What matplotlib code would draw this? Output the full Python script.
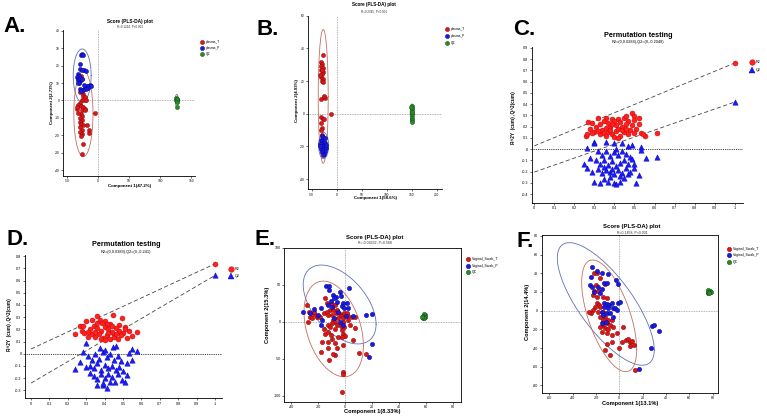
import numpy as np
import matplotlib
matplotlib.use('Agg')
import matplotlib.pyplot as plt
from matplotlib.lines import Line2D

plt.rcParams['font.family'] = ['Liberation Sans', 'DejaVu Sans']

W, H = 767., 418.

# ---------------- data ----------------
# A. plasma, PLS-DA scores
a_T = np.array([(-28, 14), (-26, 12.5), (-27, 6), (-29, 5), (-24, 4), (-25, 2.5), (-23, 1), (-22, 0),
                (-27, 0.5), (-21, 2), (-30, -1.5), (-33, -2.5), (-28, -3), (-24, -3.5), (-22, -5),
                (-34, -5), (-26, -5.5), (-21, -5.5), (-5, -7.2), (-28, -8), (-26, -9), (-29, -10),
                (-27, -11.5), (-30, -12.5), (-28, -13.5), (-25, -14), (-29, -15.5), (-27, -17),
                (-30, -18), (-26, -19.5), (-28, -20.5), (-17.5, -14.3), (-15, -17), (-15, -18.5),
                (-25, -24.8), (-26, -30.5), (-35, -3.8), (-19, 0), (-32, -7)])
a_P = np.array([(-28.4, 26.3), (-25.5, 26.5), (-24, 26.3), (-30, 21), (-29.5, 18), (-22.5, 17.5),
                (-20.3, 17.2), (-26, 17.8), (-33, 15), (-31.5, 14.3), (-34, 13.3), (-32, 12.4),
                (-30, 11.4), (-33.5, 11.5), (-29, 13), (-27, 12.5), (-31, 10.3), (-32.5, 9.8),
                (-18.5, 8.6), (-14, 8.8), (-16, 8.2), (-22.2, 7.3), (-16.8, 7), (-20, 6.5),
                (-25, 6.2), (-30.3, 6.5), (-28, 5.4), (-23, 8.8), (-12.5, 8.5)])
a_QC = np.array([(126.5, 1.5), (127, 0.8), (126.8, 0), (127.3, -0.5), (126.2, 0.3), (127.5, 1.1),
                 (126.9, -1), (127.2, -3.6)])

# B. plasma, PLS-DA scores
b_T = np.array([(-27, 36), (-31, 31.5), (-29.5, 30.5), (-31.5, 29), (-28, 28), (-30.5, 26.5),
                (-27, 25.5), (-29.5, 24), (-31, 22.5), (-28, 21.5), (-28.5, 20), (-27, 19.5),
                (-32.5, 23.5), (-30, 27), (-32, 9), (-24.5, 10.3), (-23, 9.7), (-26, 10.8),
                (-11.4, 0), (-32, -2), (-28, -3.4), (-24.5, -3.2), (-31, -6), (-29, -9), (-32, -10),
                (-28.5, -13)])
b_P = np.array([(-30, -13.5), (-27, -14.5), (-24, -15), (-32, -16), (-29, -17), (-26, -17.5),
                (-23, -18), (-33, -18.5), (-30.5, -19.5), (-28, -20), (-25, -20.5), (-22, -21),
                (-31, -21.5), (-27.5, -22), (-24, -23), (-29.5, -23.5), (-26, -24.5), (-28, -25.5),
                (-33.5, -20), (-21.5, -19)])
b_QC = np.array([(150, 5), (150.5, 3.5), (149.8, 2), (150.3, 0.5), (150, -1), (150.6, -2.5),
                 (149.9, -3.8), (150.2, -4.8), (150.8, 1), (149.5, 4)])

# C. permutation test (plasma)
c_R2 = np.array([(0.26, 0.12), (0.265, 0.13), (0.27, 0.24), (0.29, 0.23), (0.32, 0.28), (0.36, 0.28),
                 (0.39, 0.27), (0.42, 0.27), (0.45, 0.28), (0.46, 0.29), (0.49, 0.32), (0.5, 0.29),
                 (0.52, 0.28), (0.5, 0.26), (0.52, 0.22), (0.51, 0.18), (0.53, 0.14), (0.55, 0.12),
                 (0.54, 0.13), (0.61, 0.14), (0.48, 0.17), (0.3, 0.15), (0.28, 0.18), (0.31, 0.2),
                 (0.33, 0.22), (0.35, 0.25), (0.37, 0.23), (0.4, 0.25), (0.43, 0.24), (0.47, 0.25),
                 (0.34, 0.17), (0.36, 0.19), (0.38, 0.2), (0.41, 0.21), (0.44, 0.2), (0.46, 0.22),
                 (0.49, 0.21), (0.33, 0.13), (0.35, 0.14), (0.37, 0.15), (0.39, 0.13), (0.41, 0.16),
                 (0.43, 0.12), (0.45, 0.15), (0.47, 0.13), (0.4, 0.11), (0.42, 0.18), (0.44, 0.17),
                 (0.5, 0.14), (0.38, 0.17), (0.36, 0.12), (0.32, 0.16), (0.29, 0.14), (0.42, 0.1),
                 (0.39, 0.22), (0.46, 0.18), (1.0, 0.765)])
c_Q2 = np.array([(0.265, 0.005), (0.3, 0.065), (0.3, 0.05), (0.28, -0.08), (0.25, -0.13), (0.265, -0.17),
                 (0.3, -0.29), (0.33, -0.3), (0.35, -0.27), (0.38, -0.25), (0.4, -0.3), (0.41, -0.31),
                 (0.43, -0.29), (0.45, -0.26), (0.47, -0.22), (0.51, -0.3), (0.52, -0.23), (0.5, -0.17),
                 (0.5, -0.13), (0.53, 0.02), (0.53, -0.01), (0.555, -0.08), (0.61, -0.07), (0.49, 0.04),
                 (0.47, 0.03), (0.36, 0.06), (0.4, 0.05), (0.44, 0.05), (0.32, -0.02), (0.34, -0.05),
                 (0.36, -0.02), (0.38, -0.06), (0.4, -0.03), (0.42, -0.05), (0.44, -0.02), (0.46, -0.04),
                 (0.48, -0.07), (0.31, -0.1), (0.33, -0.13), (0.35, -0.1), (0.37, -0.14), (0.39, -0.11),
                 (0.41, -0.15), (0.43, -0.12), (0.45, -0.1), (0.47, -0.13), (0.49, -0.09), (0.32, -0.18),
                 (0.34, -0.21), (0.36, -0.19), (0.38, -0.2), (0.4, -0.22), (0.42, -0.19), (0.44, -0.21),
                 (0.46, -0.17), (0.48, -0.2), (0.29, -0.2), (0.37, -0.29), (0.41, 0.0), (0.39, -0.18),
                 (0.43, -0.24), (0.35, -0.16), (1.0, 0.418)])
c_lines = [(0.0284, 0.765), (-0.2048, 0.418)]

# D. permutation test (vaginal swab)
d_R2 = np.array([(0.239, 0.162), (0.266, 0.23), (0.284, 0.23), (0.3, 0.265), (0.33, 0.276), (0.357, 0.31),
                 (0.375, 0.28), (0.4, 0.27), (0.447, 0.319), (0.493, 0.297), (0.478, 0.238), (0.51, 0.222),
                 (0.53, 0.19), (0.547, 0.149), (0.574, 0.176), (0.52, 0.13), (0.43, 0.24), (0.41, 0.24),
                 (0.384, 0.25), (0.275, 0.19), (0.311, 0.135), (0.29, 0.17), (0.32, 0.2), (0.34, 0.23),
                 (0.36, 0.21), (0.38, 0.19), (0.4, 0.22), (0.42, 0.2), (0.44, 0.18), (0.46, 0.21),
                 (0.48, 0.19), (0.5, 0.17), (0.33, 0.16), (0.35, 0.14), (0.37, 0.16), (0.39, 0.13),
                 (0.41, 0.15), (0.43, 0.12), (0.45, 0.14), (0.47, 0.12), (0.49, 0.15), (0.36, 0.25),
                 (0.38, 0.12), (0.42, 0.17), (0.46, 0.16), (0.31, 0.18), (0.35, 0.18), (0.4, 0.11),
                 (0.44, 0.23), (0.51, 0.2), (1.0, 0.738)])
d_Q2 = np.array([(0.239, -0.122), (0.266, -0.068), (0.284, 0.014), (0.3, 0.086), (0.375, 0.049),
                 (0.447, 0.054), (0.462, 0.065), (0.53, 0.005), (0.547, 0.04), (0.574, 0.022),
                 (0.547, -0.054), (0.52, -0.08), (0.493, -0.216), (0.51, -0.23), (0.52, -0.176),
                 (0.357, -0.257), (0.393, -0.257), (0.41, -0.284), (0.456, -0.23), (0.43, -0.23),
                 (0.32, -0.162), (0.3, -0.108), (0.31, -0.02), (0.33, -0.05), (0.35, 0.0), (0.37, -0.04),
                 (0.39, 0.01), (0.41, -0.03), (0.43, 0.0), (0.45, -0.05), (0.47, -0.02), (0.49, -0.06),
                 (0.32, -0.1), (0.34, -0.12), (0.36, -0.08), (0.38, -0.13), (0.4, -0.09), (0.42, -0.12),
                 (0.44, -0.1), (0.46, -0.13), (0.48, -0.11), (0.5, -0.14), (0.34, -0.18), (0.36, -0.21),
                 (0.38, -0.17), (0.4, -0.2), (0.42, -0.17), (0.44, -0.19), (0.47, -0.17), (0.39, -0.24),
                 (0.4, 0.03), (1.0, 0.643)])
d_lines = [(0.0389, 0.738), (-0.241, 0.643)]

# E. vaginal swab, PLS-DA scores
e_T = np.array([(-28.4, 22.6), (-25.9, 6.8), (-27.2, 0.1), (-22.7, 9.9), (-21.0, 6.8), (-19.8, 7.7),
                (-18.5, 6.8), (-22.7, 12.6), (-15.3, 11.3), (-24.2, 5.4), (-26.7, 12.6), (-14.8, 31.6),
                (-13.6, 24.9), (-9.9, 23.5), (-7.4, 22.6), (-11.1, 15.9), (-8.6, 15.9), (-6.2, 15.9),
                (-13.6, 13.6), (-12.3, 9.0), (-9.9, 9.0), (-6.9, 11.3), (-3.7, 9.9), (-2.5, 8.1),
                (-0.5, 11.3), (1.2, 11.3), (2.5, 7.7), (4.9, 6.8), (7.4, 6.8), (-4.9, 4.5), (-1.2, 4.5),
                (-8.6, 2.3), (-7.4, 0.1), (-9.9, -2.2), (-6.2, -4.5), (-1.2, 0.1), (2.5, 2.3),
                (-12.8, -4.5), (-15.3, -9.9), (-11.1, -6.7), (-7.4, -9.9), (-3.0, -5.8), (-0.5, -6.7),
                (3.7, -4.5), (7.4, -8.1), (-14.8, -17.1), (-12.8, -14.4), (-10.4, -18.0), (-2.5, -11.2),
                (-1.7, -17.1), (-4.9, -20.3), (-9.9, -23.4), (0.0, -19.4), (-17.3, -27.9), (-12.3, -27.9),
                (-7.4, -29.3), (-1.2, -31.5), (6.2, -24.7), (-2.5, -20.3), (-12.3, -36.0), (-7.4, -45.0),
                (-17.8, -40.5), (-6.2, -36.0), (-8.6, -44.1), (-11.9, -51.8), (10.4, -42.7), (15.6, -44.1),
                (-1.7, -68.4), (-1.2, -71.1), (-2.5, -94.5)])
e_P = np.array([(-14.3, 48.2), (-12.1, 48.2), (-11.6, 42.9), (3.2, 45.1), (-4.0, 39.7), (-9.1, 36.1),
                (-6.7, 33.9), (-3.2, 34.8), (-7.9, 31.6), (-10.4, 28.0), (-5.7, 27.1), (-1.2, 24.9),
                (1.2, 24.9), (-2.5, 21.6), (-0.5, 18.1), (2.5, 19.0), (-12.8, 22.6), (-9.9, 20.3),
                (-30.9, 13.6), (-17.8, 18.1), (-19.8, 9.0), (-17.8, -4.5), (-25.9, 11.3), (-3.7, -0.9),
                (-1.2, -4.5), (6.2, 8.1), (15.6, 9.0), (20.2, 10.8), (19.8, -30.6), (18.0, -47.7),
                (-5.4, 12.6), (-7.9, 4.5), (0.7, 8.1), (-22.7, 17.6), (-17.3, 2.3)])
e_QC = np.array([(57.5, 5), (58, 6.5), (58.5, 8), (59, 9), (58.2, 10), (57.8, 7.5), (59.2, 6),
                 (58.7, 4.5), (57, 6)])

# F. vaginal swab, PLS-DA scores
f_T = np.array([(-22.1, 40.0), (-19.3, 40.7), (-16.6, 34.6), (-12.3, 28.6), (-21.4, 21.2), (-18.1, 21.0),
                (-22.3, 16.7), (-19.5, 15.0), (-13.7, 15.0), (-10.9, 13.2), (-19.5, 8.0), (-17.8, 6.1),
                (-20.7, 4.3), (-16.6, 4.3), (-22.3, 0.7), (-24.3, -2.1), (-18.6, -1.0), (-13.7, -1.0),
                (-12.3, -6.4), (-16.6, -7.1), (-13.7, -9.9), (-9.4, -9.9), (-6.6, -9.9), (-10.9, -13.5),
                (-8.0, -15.3), (-13.7, -15.3), (-16.6, -17.1), (-12.3, -18.9), (-9.4, -20.0), (-5.1, -17.8),
                (3.5, -17.1), (-14.6, -22.4), (-10.9, -24.2), (-6.6, -26.0), (-2.3, -24.2), (2.0, -33.2),
                (5.5, -31.4), (7.2, -30.7), (9.2, -33.2), (11.2, -32.1), (12.9, -36.8), (9.2, -37.9),
                (-6.6, -33.2), (-10.9, -35.7), (-12.3, -42.1), (-8.0, -47.5), (-0.3, -40.4), (13.5, -63.5),
                (-26.0, -1.0), (-20.0, 28.0)])
f_P = np.array([(-23.7, 47.1), (-18.9, 42.9), (-15.1, 40.0), (-9.4, 39.3), (-24.3, 36.4), (-2.8, 32.8),
                (-1.4, 28.2), (-12.9, 30.0), (-10.9, 30.0), (-25.1, 27.5), (-23.7, 25.8), (-18.1, 25.0),
                (-15.1, 22.9), (-21.4, 20.3), (-16.6, 18.6), (-12.9, 8.6), (-10.9, 7.2), (-8.8, 6.1),
                (-6.6, 7.9), (-12.9, 4.3), (-10.0, 2.5), (-5.1, 2.5), (-1.4, 7.9), (-15.1, -1.0),
                (-13.7, -4.6), (-10.9, -2.8), (-8.0, -2.1), (-3.7, 2.5), (-2.3, 0.7), (-11.4, -11.7),
                (-15.1, -13.5), (27.8, -16.3), (30.1, -15.2), (34.1, -21.3), (27.2, -40.3), (16.9, -62.8),
                (-5.1, -6.4), (0.6, 9.6)])
f_QC = np.array([(76, 19), (77, 20.5), (78, 21), (76.5, 22), (77.5, 19.5), (78.3, 20), (76, 20.5),
                 (77, 18.5)])

# confidence ellipses: centre x, centre y, half-width, half-height, correlation
a_ell = [(-26, 14.3, 14.5, 15.3, 0.0), (-24, -7.6, 15.5, 24.7, 0.0), (127, 0, 2.5, 3.5, 0.0)]
b_ell = [(-26, -19.5, 10, 8, 0.0), (-26.8, 10.6, 10, 41, 0.0), (150, 0, 3, 6, 0.0)]
e_ell = [(-4, 23.3, 27, 53.3, -0.5), (-8.4, -9.7, 22, 64.6, -0.35)]
f_ell = [(-11.6, 7.2, 41.6, 65.6, -0.75), (-8.7, -5.5, 23.6, 59.8, -0.6)]

RED, RED_E = '#d81818', '#8a0000'
BLUE, BLUE_E = '#1a1ae0', '#00008a'
GREEN, GREEN_E = '#2a8a2a', '#0e4a0e'
RED_ELL, BLUE_ELL = '#c07060', '#6070b8'

fig = plt.figure(figsize=(W / 100, H / 100), dpi=100)


def box(l, t, r, b):
    return [l / W, 1 - b / H, (r - l) / W, (b - t) / H]


def ftext(px, py, s, **kw):
    fig.text(px / W, 1 - py / H, s, **kw)


def ellipse(ax, cx, cy, rx, ry, rho, color):
    t = np.linspace(0, 2 * np.pi, 200)
    d = np.arccos(rho)
    ax.plot(cx + rx * np.cos(t), cy + ry * np.cos(t - d), color=color, lw=0.6, zorder=1)


def legend(px, py, dy, labels, colors, edges, markers, ms, fs):
    for i in range(len(labels)):
        y = 1 - (py + i * dy) / H
        fig.add_artist(Line2D([px / W], [y], marker=markers[i], ms=ms, mfc=colors[i], mec=edges[i],
                              mew=0.3, ls='', transform=fig.transFigure))
        fig.text((px + 4) / W, y, labels[i], fontsize=fs, va='center', ha='left')


def style(ax, xt, yt, fs, full=False):
    for s in ['top', 'right']:
        ax.spines[s].set_visible(full)
    for s in ax.spines.values():
        s.set_linewidth(0.6)
    ax.set_xticks(xt)
    ax.set_yticks(yt)
    ax.set_xticklabels(['%g' % v for v in xt])
    ax.set_yticklabels(['%g' % v for v in yt])
    ax.tick_params(labelsize=fs, length=1.5, width=0.4, pad=1.0)


def pls(ax, T, P, QC, ell, s):
    ax.axhline(0, color='#9a9a9a', ls=(0, (1, 1)), lw=0.6, zorder=0)
    ax.axvline(0, color='#9a9a9a', ls=(0, (1, 1)), lw=0.6, zorder=0)
    ax.scatter(T[:, 0], T[:, 1], s=s, c=RED, edgecolors=RED_E, linewidths=0.3, zorder=3)
    ax.scatter(P[:, 0], P[:, 1], s=s, c=BLUE, edgecolors=BLUE_E, linewidths=0.3, zorder=3)
    ax.scatter(QC[:, 0], QC[:, 1], s=s, c=GREEN, edgecolors=GREEN_E, linewidths=0.3, zorder=3)
    cols = [BLUE_ELL, RED_ELL, '#777777']
    for e, c in zip(ell, cols):
        ellipse(ax, *e, c)


def perm(ax, R2, Q2, lines):
    ax.axhline(0, color='k', ls=(0, (1, 1.2)), lw=0.6, zorder=0)
    for (y0, y1) in lines:
        ax.plot([0, 1], [y0, y1], color='#444444', ls=(0, (5, 3)), lw=0.6, zorder=1)
    ax.scatter(R2[:, 0], R2[:, 1], s=13, c='#ff2020', edgecolors='#c00000', linewidths=0.3, zorder=3)
    ax.scatter(Q2[:, 0], Q2[:, 1], s=15, marker='^', c='#1a1aff', edgecolors='#0000b0',
               linewidths=0.3, zorder=3)


# ---- A ----
axA = fig.add_axes(box(63, 30, 195, 176))
pls(axA, a_T, a_P, a_QC, a_ell, 9)
axA.set_xlim(-57, 156.5)
axA.set_ylim(-43.4, 40.5)
style(axA, [-50, 0, 50, 100, 150], list(range(-40, 41, 10)), 2.3)
ftext(130, 22, 'Score (PLS-DA) plot', fontsize=3.4, fontweight='bold', ha='center', va='center')
ftext(130, 27, 'R=0.1294, P<0.001', fontsize=2.2, ha='center', va='center', color='#333333')
ftext(130, 186.5, 'Component 1(47.2%)', fontsize=3.2, fontweight='bold', ha='center', va='center')
ftext(52, 103, 'Component 2(2.73%)', fontsize=3.2, fontweight='bold', ha='center', va='center',
      rotation=90)
legend(202, 41.7, 6.2, ['plasma_T', 'plasma_P', 'QC'], [RED, BLUE, GREEN],
       [RED_E, BLUE_E, GREEN_E], ['o'] * 3, 3, 2.3)
ftext(3, 32, 'A.', fontsize=16, fontweight='bold')

# ---- B ----
axB = fig.add_axes(box(308.3, 15.7, 441.7, 189.3))
pls(axB, b_T, b_P, b_QC, b_ell, 9)
axB.set_xlim(-56.6, 210)
axB.set_ylim(-46.3, 60)
style(axB, [-50, 0, 50, 100, 150, 200], [-40, -20, 0, 20, 40, 60], 2.3)
ftext(374, 4.5, 'Score (PLS-DA) plot', fontsize=3.3, fontweight='bold', ha='center', va='center')
ftext(374, 12, 'R=0.2345, P<0.001', fontsize=2.2, ha='center', va='center', color='#333333')
ftext(375, 198.5, 'Component 1(58.6%)', fontsize=3.2, fontweight='bold', ha='center', va='center')
ftext(297, 100, 'Component 2(4.93%)', fontsize=3.2, fontweight='bold', ha='center', va='center',
      rotation=90)
legend(447, 29.3, 6.7, ['plasma_T', 'plasma_P', 'QC'], [RED, BLUE, GREEN],
       [RED_E, BLUE_E, GREEN_E], ['o'] * 3, 3, 2.3)
ftext(257, 35, 'B.', fontsize=16, fontweight='bold')

# ---- C ----
axC = fig.add_axes(box(531.7, 47.3, 742.7, 203))
perm(axC, c_R2, c_Q2, c_lines)
axC.set_xlim(-0.013, 1.04)
axC.set_ylim(-0.48, 0.905)
style(axC, [round(0.1 * i, 1) for i in range(11)], [round(0.1 * i, 1) for i in range(-4, 10)], 2.7)
ftext(638, 35.7, 'Permutation testing', fontsize=5.2, fontweight='bold', ha='center', va='center')
ftext(638, 42.3, 'R2=(0,0.0284),Q2=(0,-0.2048)', fontsize=2.8, ha='center', va='center')
ftext(513, 118, 'R^2Y  (cum) ,Q^2(cum)', fontsize=3.4, fontweight='bold', ha='center',
      va='center', rotation=90)
legend(752, 62, 8, ['R2', 'Q2'], ['#ff2020', '#1a1aff'], ['#c00000', '#0000b0'], ['o', '^'], 4, 2.7)
ftext(513, 35, 'C.', fontsize=16, fontweight='bold')

# ---- D ----
axD = fig.add_axes(box(25, 255, 221.7, 398.3))
perm(axD, d_R2, d_Q2, d_lines)
axD.set_xlim(-0.033, 1.036)
axD.set_ylim(-0.366, 0.81)
style(axD, [round(0.1 * i, 1) for i in range(11)], [round(0.1 * i, 1) for i in range(-3, 9)], 2.7)
ftext(126, 245, 'Permutation testing', fontsize=5.2, fontweight='bold', ha='center', va='center')
ftext(126, 251.7, 'R2=(0,0.0389),Q2=(0,-0.241)', fontsize=2.8, ha='center', va='center')
ftext(10, 325, 'R^2Y  (cum) ,Q^2(cum)', fontsize=3.4, fontweight='bold', ha='center',
      va='center', rotation=90)
legend(230.7, 269, 7, ['R2', 'Q2'], ['#ff2020', '#1a1aff'], ['#c00000', '#0000b0'], ['o', '^'], 4, 2.7)
ftext(6, 245, 'D.', fontsize=16, fontweight='bold')

# ---- E ----
axE = fig.add_axes(box(284.3, 247.7, 460.7, 401.7))
pls(axE, e_T, e_P, e_QC, e_ell, 10)
axE.set_xlim(-45, 85.7)
axE.set_ylim(-108, 100)
style(axE, [-40, -20, 0, 20, 40, 60, 80], [-100, -50, 0, 50, 100], 2.6, full=True)
ftext(375, 237.7, 'Score (PLS-DA) plot', fontsize=4.3, fontweight='bold', ha='center', va='center')
ftext(375, 243, 'R=-0.04332, P=0.588', fontsize=2.5, ha='center', va='center', color='#333333')
ftext(372, 412, 'Component 1(8.33%)', fontsize=4.1, fontweight='bold', ha='center', va='center')
ftext(268, 315, 'Component 2(15.3%)', fontsize=4.1, fontweight='bold', ha='center', va='center',
      rotation=90)
legend(468.3, 259.3, 6.5, ['Vaginal_Swab_T', 'Vaginal_Swab_P', 'QC'], [RED, BLUE, GREEN],
       [RED_E, BLUE_E, GREEN_E], ['o'] * 3, 3.2, 2.5)
ftext(254, 245, 'E.', fontsize=16, fontweight='bold')

# ---- F ----
axF = fig.add_axes(box(541.7, 235, 718, 392.7))
pls(axF, f_T, f_P, f_QC, f_ell, 10)
axF.set_xlim(-66.6, 84.7)
axF.set_ylim(-87.8, 81)
style(axF, list(range(-60, 81, 20)), list(range(-80, 81, 20)), 2.6, full=True)
ftext(632, 226.7, 'Score (PLS-DA) plot', fontsize=4.3, fontweight='bold', ha='center', va='center')
ftext(632, 232.3, 'R=0.1458, P<0.001', fontsize=2.5, ha='center', va='center', color='#333333')
ftext(630, 403, 'Component 1(13.1%)', fontsize=4.1, fontweight='bold', ha='center', va='center')
ftext(528, 312, 'Component 2(14.4%)', fontsize=4.1, fontweight='bold', ha='center', va='center',
      rotation=90)
legend(729, 249, 6.3, ['Vaginal_Swab_T', 'Vaginal_Swab_P', 'QC'], [RED, BLUE, GREEN],
       [RED_E, BLUE_E, GREEN_E], ['o'] * 3, 3.2, 2.5)
ftext(516, 247, 'F.', fontsize=16, fontweight='bold')

fig.savefig('out.png', dpi=100)
